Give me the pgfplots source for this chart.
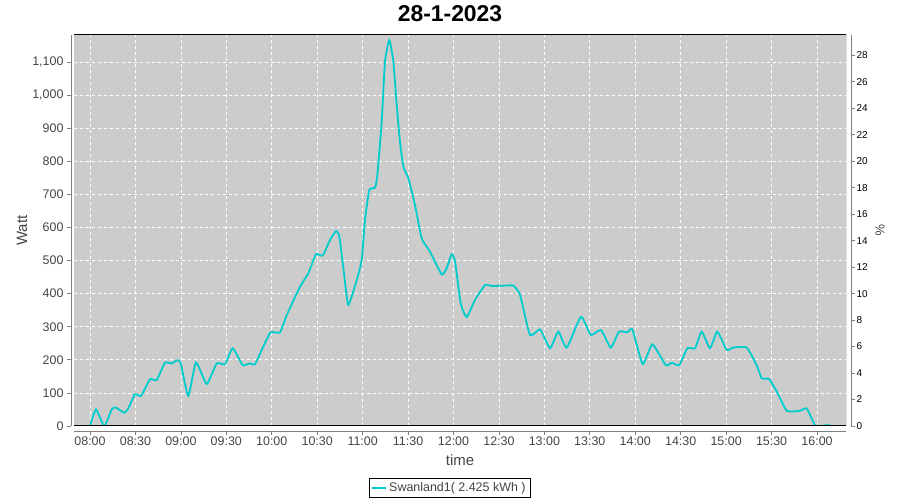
\documentclass[border=0pt]{standalone}
\usepackage{pgfplots}
\pgfplotsset{compat=1.18}
\usepackage{fontspec}
\setmainfont{Liberation Sans}
\definecolor{plotbg}{RGB}{204,204,204}
\definecolor{cyanline}{RGB}{0,204,204}
\definecolor{labgray}{RGB}{68,68,68}
\begin{document}
\begin{tikzpicture}[x=1bp,y=1bp]
\useasboundingbox (0,0) rectangle (900,500);
\begin{axis}[
  at={(74bp,74bp)}, anchor=south west,
  width=772bp, height=391bp, scale only axis,
  xmin=7.824, xmax=16.319, ymin=0, ymax=1181.6,
  axis background/.style={fill=plotbg},
  axis x line*=bottom, axis y line*=left,
  x axis line style={gray, yshift=-5bp, -},
  y axis line style={gray, xshift=-3bp, -},
  xtick={8,8.5,9,9.5,10,10.5,11,11.5,12,12.5,13,13.5,14,14.5,15,15.5,16},
  xticklabels={08:00,08:30,09:00,09:30,10:00,10:30,11:00,11:30,12:00,12:30,13:00,13:30,14:00,14:30,15:00,15:30,16:00},
  ytick={0,100,200,300,400,500,600,700,800,900,1000,1100},
  yticklabels={0,100,200,300,400,500,600,700,800,900,{1,000},{1,100}},
  grid=major, grid style={white, dashed, line width=0.7bp},
  tick align=outside, major tick length=4bp, tick style={gray, line width=0.7bp},
  every major x tick/.append style={yshift=-5bp},
  every major y tick/.append style={xshift=-3bp},
  /pgf/number format/assume math mode=true,
  ticklabel style={font=\fontsize{12.5}{14}\selectfont, text=labgray},
  xticklabel style={yshift=-3bp},
  yticklabel style={xshift=-3bp},
  xlabel={time}, ylabel={Watt},
  xlabel style={at={(axis description cs:0.5,-0.087)}, anchor=center, font=\fontsize{15}{18}\selectfont, text=labgray},
  ylabel style={at={(axis description cs:-0.0674,0.5)}, anchor=center, font=\fontsize{15}{18}\selectfont, text=labgray},
  legend style={at={(axis description cs:0.4864,-0.1586)}, anchor=center, draw=black, line width=0.6bp, font=\fontsize{12.5}{14}\selectfont, text=labgray, inner xsep=2.5bp, inner ysep=2.5bp},
  legend image code/.code={\draw[#1] (0bp,0bp) -- (14bp,0bp);},
]
\addplot[cyanline, line width=1.8bp, smooth, tension=0.3] coordinates {
(8.000,0) (8.066,50) (8.157,0) (8.239,50) (8.283,56) (8.377,40) (8.421,53)
(8.495,96) (8.561,91) (8.660,141) (8.734,139) (8.825,191) (8.899,189)
(8.961,199) (8.998,189) (9.082,91) (9.166,192) (9.284,127) (9.394,189)
(9.486,187) (9.570,235) (9.680,184) (9.753,189) (9.816,187) (9.907,240)
(9.988,283) (10.091,283) (10.165,335) (10.311,421) (10.402,461) (10.487,519)
(10.561,515) (10.641,562) (10.707,589) (10.744,572) (10.795,461) (10.842,366)
(10.935,441) (10.990,502) (11.026,623) (11.073,713) (11.136,720) (11.162,758)
(11.210,920) (11.246,1101) (11.294,1166) (11.338,1101) (11.375,970) (11.411,859)
(11.448,784) (11.503,749) (11.576,668) (11.650,567) (11.741,527) (11.870,458)
(11.925,477) (11.980,519) (12.017,497) (12.079,371) (12.145,329) (12.237,381)
(12.347,426) (12.420,423) (12.540,424) (12.658,424) (12.732,396) (12.842,275)
(12.952,292) (13.062,235) (13.153,285) (13.246,237) (13.403,330) (13.510,275)
(13.623,290) (13.730,237) (13.821,285) (13.913,283) (13.968,292) (14.082,187)
(14.188,247) (14.335,184) (14.401,191) (14.485,184) (14.573,235) (14.658,235)
(14.731,285) (14.822,235) (14.903,285) (15.006,230) (15.079,237) (15.226,237)
(15.336,184) (15.392,144) (15.472,142) (15.557,104) (15.667,46) (15.813,46)
(15.887,53) (15.978,3) (16.069,1) (16.111,3) (16.162,0)
};
\addlegendentry{Swanland1( 2.425 kWh )}
\draw[black, line width=1bp] (rel axis cs:0,0) -- (rel axis cs:1,0) -- (rel axis cs:1,1) -- (rel axis cs:0,1);
\end{axis}
\begin{axis}[
  at={(74bp,74bp)}, anchor=south west,
  width=772bp, height=391bp, scale only axis,
  xmin=7.824, xmax=16.319, ymin=0, ymax=29.53,
  axis x line=none, axis y line*=right,
  y axis line style={gray, xshift=5bp, -},
  ytick={0,2,4,6,8,10,12,14,16,18,20,22,24,26,28},
  yticklabels={0,2,4,6,8,10,12,14,16,18,20,22,24,26,28},
  tick align=outside, major tick length=4bp, tick style={gray, line width=0.7bp},
  every major y tick/.append style={xshift=5bp},
  yticklabel style={font=\fontsize{10}{12}\selectfont, text=black, xshift=3bp},
  ylabel={\%},
  ylabel style={at={(axis description cs:1.044,0.5)}, anchor=center, rotate=180, font=\fontsize{13}{16}\selectfont, text=labgray},
]
\end{axis}
\node[font=\bfseries\fontsize{23}{27}\selectfont] at (450,486) {28-1-2023};
\end{tikzpicture}
\end{document}
